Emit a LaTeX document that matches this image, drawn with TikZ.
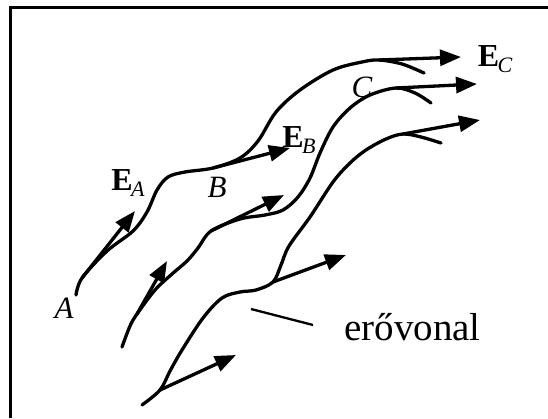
\documentclass[tikz,border=0pt]{standalone}
\usepackage{fontspec}
\setmainfont{Liberation Serif}
\usepackage{tikz}
\usetikzlibrary{arrows.meta}

\newcommand{\fieldE}[1]{{\bfseries E}\kern-1.5pt\raisebox{-0.4ex}{\fontsize{22}{22}\selectfont\mdseries\itshape #1}}

\begin{document}
\begin{tikzpicture}[x=1pt, y=-1pt,
    fieldline/.style={line width=3.3pt, line cap=round, line join=round},
    vec/.style={line width=3.3pt, -{Triangle[length=21pt, width=16pt]}},
    ptlabel/.style={font=\fontsize{31}{34}\selectfont\itshape, inner sep=0pt},
    veclabel/.style={font=\fontsize{32}{34}\selectfont, inner sep=0pt}]
  \useasboundingbox (0,0) rectangle (548,418);

  % frame (cut at right and bottom)
  \draw[line width=2.8pt] (10.5,418) -- (10.5,7.5) -- (548,7.5);

  % points on the lines and tips of the field vectors
  \coordinate (A) at (82,278);
  \coordinate (B) at (213,168);
  \coordinate (C) at (379,60);
  \coordinate (EAtip) at (135,211);
  \coordinate (EBtip) at (290,148);
  \coordinate (ECtip) at (461,57);
  \coordinate (m1) at (137,314);
  \coordinate (m2) at (211,231);
  \coordinate (m3) at (396,88);
  \coordinate (m1tip) at (167,261);
  \coordinate (m2tip) at (284,195);
  \coordinate (m3tip) at (477,84);
  \coordinate (b1) at (160,390);
  \coordinate (b2) at (273,282);
  \coordinate (b3) at (403,134);
  \coordinate (b1tip) at (236,355);
  \coordinate (b2tip) at (346,255);
  \coordinate (b3tip) at (480,120);

  % field lines
  \draw[fieldline] plot[smooth, tension=0.55] coordinates {
    (76,295) (A) (107,251) (133,231) (147,212) (157,190) (168,177)
    (185,172) (B) (240,158) (258,141) (276,112) (300,90) (333,70)
    (362,62) (C) (402,64) (424,73)};
  \draw[fieldline] plot[smooth, tension=0.55] coordinates {
    (122,347) (130,326) (m1) (155,290) (172,274) (187,261) (198,248)
    (m2) (240,219) (265,215) (283,210) (298,197) (310,178) (320,153)
    (333,127) (350,108) (370,95) (m3) (415,93) (431,103)};
  \draw[fieldline] plot[smooth, tension=0.55] coordinates {
    (142,405) (b1) (170,371) (182,350) (203,318) (222,298) (240,292)
    (256,290) (b2) (281,265) (289,246) (310,217) (333,182) (350,163)
    (366,150) (386,139) (b3) (421,137) (441,143)};

  % field vectors
  \draw[vec] (A) -- (EAtip);
  \draw[vec] (B) -- (EBtip);
  \draw[vec] (C) -- (ECtip);
  \draw[vec] (m1) -- (m1tip);
  \draw[vec] (m2) -- (m2tip);
  \draw[vec] (m3) -- (m3tip);
  \draw[vec] (b1) -- (b1tip);
  \draw[vec] (b2) -- (b2tip);
  \draw[vec] (b3) -- (b3tip);

  % labels
  \node[ptlabel] (lA) at (64,308) {A};
  \node[ptlabel] (lB) at (217,187) {B};
  \node[ptlabel] (lC) at (362,87) {C};
  \node[veclabel] (lEA) at (128,183) {\fieldE{A}};
  \node[veclabel] (lEB) at (299,140) {\fieldE{B}};
  \node[veclabel] (lEC) at (495,59) {\fieldE{C}};

  % pointer to the line
  \node[font=\fontsize{39}{42}\selectfont, inner sep=0pt, anchor=base west]
    (lname) at (344,340) {erővonal};
  \coordinate (pstart) at (251,309);
  \coordinate (pend) at (313,325);
  \draw[line width=2.3pt] (pstart) -- (pend);
\end{tikzpicture}
\end{document}
